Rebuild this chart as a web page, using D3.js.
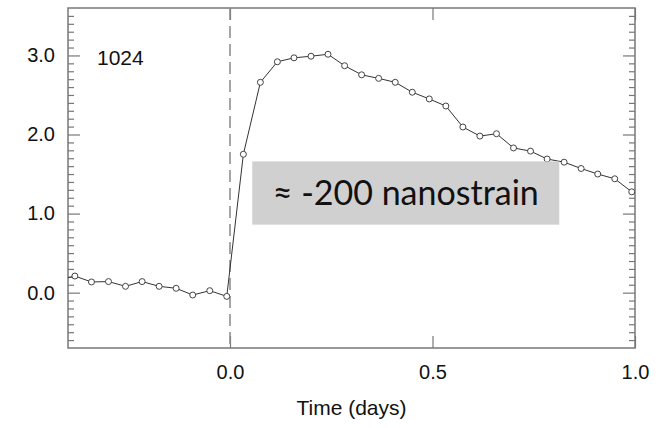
<!DOCTYPE html>
<html>
<head>
<meta charset="utf-8">
<script src="https://cdn.jsdelivr.net/npm/d3@7"></script>
<style>
  html, body { margin: 0; padding: 0; background: #fff; }
  svg { display: block; }
  .tick text { font-family: "Liberation Sans", Arial, sans-serif; fill: #111; }
</style>
</head>
<body>
<svg id="chart" width="661" height="428"></svg>
<script>
// strain record around the event (time in days)
const times = [-0.425, -0.383, -0.342, -0.300, -0.258, -0.217, -0.175, -0.133, -0.092, -0.050, -0.008,
  0.033, 0.075, 0.117, 0.158, 0.200, 0.242, 0.283, 0.325, 0.367, 0.408, 0.450, 0.492,
  0.533, 0.575, 0.617, 0.658, 0.700, 0.742, 0.783, 0.825, 0.867, 0.908, 0.950, 0.992];
const values = [0.16, 0.21, 0.135, 0.14, 0.08, 0.14, 0.08, 0.055, -0.03, 0.025, -0.047,
  1.75, 2.66, 2.92, 2.97, 2.99, 3.015, 2.87, 2.755, 2.71, 2.66, 2.535, 2.45,
  2.36, 2.095, 1.98, 2.01, 1.83, 1.79, 1.69, 1.65, 1.57, 1.50, 1.44, 1.275];
const xTicks = [0.0, 0.5, 1.0];
const yTicks = [0.0, 1.0, 2.0, 3.0];
const stationLabel = "1024";
const noteLabel = "\u2248 -200 nanostrain";
const xTitle = "Time (days)";

const svg = d3.select("#chart");
const margin = {left: 68, right: 26, top: 8, bottom: 80};
const width = 661 - margin.left - margin.right,
  height = 428 - margin.top - margin.bottom;

const x = d3.scaleLinear().domain([-0.4, 1.0]).range([0, width]);
const y = d3.scaleLinear().domain([-0.7, 3.6]).range([height, 0]);

const g = svg.append("g").attr("transform", "translate(" + margin.left + "," + margin.top + ")");

g.append("clipPath").attr("id", "plot-clip")
  .append("rect").attr("width", width).attr("height", height);

// minor y ticks every 0.1
const minorY = d3.range(-6, 36).map(i => i / 10).filter(v => Math.abs(v - Math.round(v)) > 1e-6);

function styleAxis(sel) {
  sel.select(".domain").remove();
  sel.selectAll(".tick line").attr("stroke", "#777").attr("stroke-width", 1.2);
  sel.selectAll(".tick text").style("font-size", "20px");
}

g.append("g")
  .call(d3.axisLeft(y).tickValues(minorY).tickSize(-6).tickFormat(""))
  .call(styleAxis);
g.append("g")
  .call(d3.axisLeft(y).tickValues(yTicks).tickSize(-12).tickPadding(13).tickFormat(d3.format(".1f")))
  .call(styleAxis);
g.append("g").attr("transform", "translate(" + width + ",0)")
  .call(d3.axisRight(y).tickValues(minorY).tickSize(-6).tickFormat(""))
  .call(styleAxis);
g.append("g").attr("transform", "translate(" + width + ",0)")
  .call(d3.axisRight(y).tickValues(yTicks).tickSize(-12).tickFormat(""))
  .call(styleAxis);

g.append("g").attr("transform", "translate(0," + height + ")")
  .call(d3.axisBottom(x).tickValues(xTicks).tickSize(-12).tickPadding(17).tickFormat(d3.format(".1f")))
  .call(styleAxis);
g.append("g")
  .call(d3.axisTop(x).tickValues(xTicks).tickSize(-12).tickFormat(""))
  .call(styleAxis);

// frame
g.append("rect")
  .attr("width", width).attr("height", height)
  .attr("fill", "none").attr("stroke", "#777").attr("stroke-width", 1.5);

// event line at t = 0
g.append("line")
  .attr("x1", x(0)).attr("x2", x(0))
  .attr("y1", 0).attr("y2", height)
  .attr("stroke", "#888").attr("stroke-width", 1.5)
  .attr("stroke-dasharray", "12,6");

const pts = times.map((t, i) => [t, values[i]]);

const plot = g.append("g").attr("clip-path", "url(#plot-clip)");
plot.append("path")
  .datum(pts)
  .attr("fill", "none")
  .attr("stroke", "#333")
  .attr("stroke-width", 1)
  .attr("d", d3.line().x(d => x(d[0])).y(d => y(d[1])));

plot.selectAll("circle")
  .data(pts)
  .enter().append("circle")
  .attr("cx", d => x(d[0]))
  .attr("cy", d => y(d[1]))
  .attr("r", 3)
  .attr("fill", "#fff")
  .attr("stroke", "#444")
  .attr("stroke-width", 1);

g.append("text")
  .attr("x", 29).attr("y", 57)
  .style("font-family", "'Liberation Sans', Arial, sans-serif")
  .style("font-size", "21px")
  .attr("fill", "#111")
  .text(stationLabel);

// annotation box
const bx0 = x(0.055), bx1 = x(0.813), by0 = y(1.66), by1 = y(0.86);
g.append("rect")
  .attr("x", bx0).attr("y", by0)
  .attr("width", bx1 - bx0).attr("height", by1 - by0)
  .attr("fill", "#d0d0d0");
g.append("text")
  .attr("x", (bx0 + bx1) / 2).attr("y", by0 + 44)
  .attr("text-anchor", "middle")
  .style("font-family", "Lato, 'Open Sans', sans-serif")
  .style("font-size", "34px")
  .attr("fill", "#111")
  .text(noteLabel);

svg.append("text")
  .attr("x", margin.left + x(0.3)).attr("y", 415)
  .attr("text-anchor", "middle")
  .style("font-family", "'Liberation Sans', Arial, sans-serif")
  .style("font-size", "21px")
  .attr("fill", "#111")
  .text(xTitle);
</script>
</body>
</html>
